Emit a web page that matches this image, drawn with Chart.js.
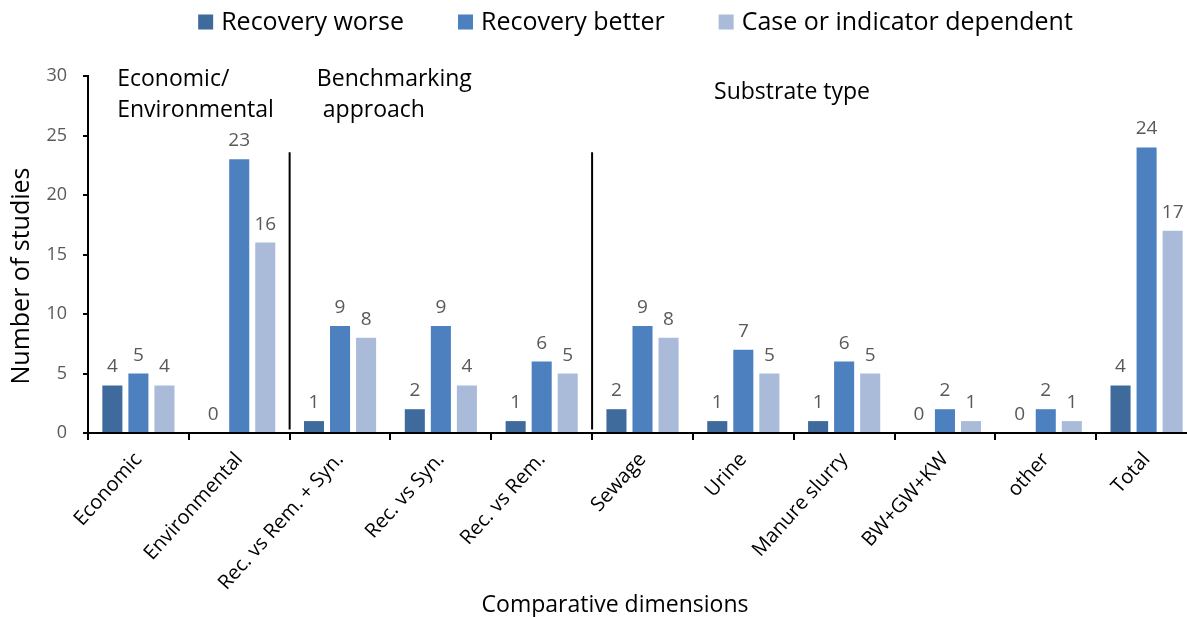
<!DOCTYPE html>
<html>
<head>
<meta charset="utf-8">
<script src="https://cdn.jsdelivr.net/npm/chart.js@4.4.1/dist/chart.umd.min.js"></script>
<style>
  html, body { margin: 0; padding: 0; background: #fff; overflow: hidden; width: 1187px; height: 617px; }
  #box { position: absolute; left: 0; top: 0; width: 1200px; height: 617px; }
</style>
</head>
<body>
<div id="box"><canvas id="chart"></canvas></div>
<script>
// Categories along the x axis
const categories = ['Economic', 'Environmental', 'Rec. vs Rem. + Syn.', 'Rec. vs Syn.', 'Rec. vs Rem.',
  'Sewage', 'Urine', 'Manure slurry', 'BW+GW+KW', 'other', 'Total'];

// Number of studies per outcome
const recoveryWorse  = [4, 0, 1, 2, 1, 2, 1, 1, 0, 0, 4];
const recoveryBetter = [5, 23, 9, 9, 6, 9, 7, 6, 2, 2, 24];
const caseDependent  = [4, 16, 8, 4, 5, 8, 5, 5, 1, 1, 17];

const seriesNames  = ['Recovery worse', 'Recovery better', 'Case or indicator dependent'];
const seriesColors = ['#3f6a9c', '#4c80be', '#aabbd9'];

// Value axis ticks
const yTicks = [0, 5, 10, 15, 20, 25, 30];

// Grouping of the categories: headings and the index where each new group starts
const groupTitles = [['Economic/', 'Environmental'], ['Benchmarking', ' approach'], ['Substrate type']];
const groupStarts = [2, 5];

const axisTitleX = 'Comparative dimensions';
const axisTitleY = 'Number of studies';

const FONT = "'Open Sans', sans-serif";

const decorations = {
  id: 'decorations',
  afterDatasetsDraw(chart) {
    const { ctx, chartArea, scales: { x, y } } = chart;
    const catW = (chartArea.right - chartArea.left) / categories.length;

    ctx.save();
    // value labels above the bars
    ctx.font = `19px ${FONT}`;
    ctx.fillStyle = '#595959';
    ctx.textAlign = 'center';
    ctx.textBaseline = 'alphabetic';
    chart.data.datasets.forEach((ds, i) => {
      chart.getDatasetMeta(i).data.forEach((bar, j) => {
        ctx.fillText(String(ds.data[j]), bar.x, bar.y - 13);
      });
    });

    // group separators
    ctx.strokeStyle = '#000';
    ctx.lineWidth = 2;
    groupStarts.forEach(idx => {
      const px = (x.getPixelForValue(idx - 1) + x.getPixelForValue(idx)) / 2;
      ctx.beginPath();
      ctx.moveTo(px, y.getPixelForValue(23.6));
      ctx.lineTo(px, y.getPixelForValue(0.3));
      ctx.stroke();
    });

    // group headings
    ctx.font = `23px ${FONT}`;
    ctx.fillStyle = '#000';
    ctx.textAlign = 'left';
    const headingPos = [[0.29, 29.2], [2.27, 29.2], [6.21, 28.05]];
    groupTitles.forEach((lines, g) => {
      const hx = chartArea.left + headingPos[g][0] * catW;
      const hy = y.getPixelForValue(headingPos[g][1]);
      lines.forEach((t, k) => ctx.fillText(t, hx, hy + k * 31));
    });

    // axis titles
    ctx.font = `23px ${FONT}`;
    ctx.textAlign = 'center';
    ctx.textBaseline = 'middle';
    ctx.fillText(axisTitleX, 615, 605);
    ctx.font = `25px ${FONT}`;
    ctx.save();
    ctx.translate(22, 276);
    ctx.rotate(-Math.PI / 2);
    ctx.fillText(axisTitleY, 0, 0);
    ctx.restore();

    // legend
    ctx.font = `25px ${FONT}`;
    ctx.textAlign = 'left';
    ctx.textBaseline = 'middle';
    const box = 15, gapBox = 8, gapItem = 54;
    const widths = chart.data.datasets.map(d => ctx.measureText(d.label).width);
    const total = widths.reduce((a, w) => a + box + gapBox + w, 0) + gapItem * (widths.length - 1);
    let lx = 635.5 - total / 2;
    chart.data.datasets.forEach((d, i) => {
      ctx.fillStyle = d.backgroundColor;
      ctx.fillRect(lx, 22 - box / 2, box, box);
      ctx.fillStyle = '#000';
      ctx.fillText(d.label, lx + box + gapBox, 23);
      lx += box + gapBox + widths[i] + gapItem;
    });
    ctx.restore();
  }
};

const series = [recoveryWorse, recoveryBetter, caseDependent];

new Chart(document.getElementById('chart'), {
  type: 'bar',
  data: {
    labels: categories,
    datasets: series.map((vals, i) => ({
      label: seriesNames[i],
      data: vals,
      backgroundColor: seriesColors[i],
      borderWidth: 0,
      categoryPercentage: 0.775,
      barPercentage: 0.77
    }))
  },
  options: {
    responsive: true,
    maintainAspectRatio: false,
    animation: false,
    layout: { padding: { left: 0, right: 3, top: 76, bottom: 0 } },
    plugins: {
      legend: { display: false },
      tooltip: { enabled: false }
    },
    scales: {
      x: {
        grid: { drawOnChartArea: false, drawTicks: true, tickLength: 7, color: '#000', lineWidth: 2, offset: true },
        border: { color: '#000', width: 2 },
        ticks: { color: '#000', font: { family: FONT, size: 20 }, minRotation: 48, maxRotation: 48, padding: 8, autoSkip: false },
        afterFit(s) { s.height = 617 - 433; }
      },
      y: {
        min: 0, max: 30,
        afterBuildTicks(s) { s.ticks = yTicks.map(v => ({ value: v })); },
        grid: { drawOnChartArea: false, drawTicks: true, tickLength: 5, color: '#000', lineWidth: 2 },
        border: { color: '#000', width: 2 },
        ticks: { color: '#595959', font: { family: FONT, size: 18 }, padding: 16 },
        afterFit(s) { s.width = 88; }
      }
    }
  },
  plugins: [decorations]
});
</script>
</body>
</html>
